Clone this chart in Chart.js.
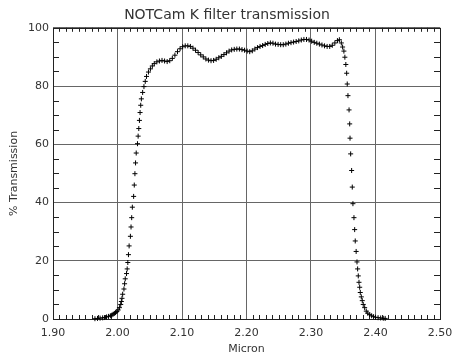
<!DOCTYPE html>
<html>
<head>
<meta charset="utf-8">
<script src="https://cdn.jsdelivr.net/npm/chart.js@4"></script>
<style>
  html, body { margin: 0; padding: 0; background: #fff; }
  #chart { display: block; }
</style>
</head>
<body>
<canvas id="chart" width="454" height="356"></canvas>
<script>
// filter curve (micron, % transmission)
const micron = [
  1.965, 1.969, 1.973, 1.977, 1.980, 1.983, 1.986, 1.989, 1.991, 1.993,
  1.995, 1.997, 1.999, 2.001, 2.003, 2.005, 2.006, 2.007, 2.008, 2.010,
  2.011, 2.012, 2.014, 2.015, 2.016, 2.017, 2.018, 2.020, 2.021, 2.022,
  2.023, 2.025, 2.026, 2.027, 2.028, 2.029, 2.031, 2.032, 2.033, 2.034,
  2.035, 2.036, 2.037, 2.039, 2.041, 2.043,
  2.045, 2.048, 2.051, 2.054, 2.057, 2.061, 2.065, 2.069, 2.073, 2.077,
  2.081, 2.085, 2.089, 2.093, 2.097, 2.101, 2.105, 2.109, 2.113, 2.117,
  2.121, 2.125, 2.129, 2.133, 2.137, 2.141, 2.145, 2.149, 2.153, 2.157,
  2.161, 2.165, 2.169, 2.173, 2.177, 2.181, 2.185, 2.189, 2.193, 2.197,
  2.201, 2.205, 2.209, 2.213, 2.217, 2.221, 2.225, 2.229, 2.233, 2.237,
  2.241, 2.245, 2.249, 2.253, 2.257, 2.261, 2.265, 2.269, 2.273, 2.277,
  2.281, 2.285, 2.289, 2.293, 2.297, 2.301, 2.305, 2.309, 2.313, 2.317,
  2.321, 2.325, 2.329, 2.333, 2.337, 2.341, 2.344, 2.347, 2.349, 2.351,
  2.3525, 2.354, 2.3553, 2.3562, 2.3573, 2.359, 2.360, 2.3605, 2.3615, 2.363,
  2.364, 2.365, 2.3666, 2.3677, 2.3686, 2.370, 2.3713, 2.3723, 2.3733, 2.3744,
  2.3755, 2.3764, 2.378, 2.3795, 2.381, 2.3832, 2.3857, 2.388, 2.391, 2.394,
  2.397, 2.400, 2.404, 2.408, 2.412, 2.415
];
const transmission = [
  0.1, 0.2, 0.3, 0.4, 0.5, 0.7, 0.9, 1.1, 1.3, 1.6,
  1.9, 2.2, 2.6, 3.1, 3.9, 5.0, 6.0, 7.1, 8.5, 10.3,
  12.1, 13.8, 15.6, 17.2, 19.4, 22.1, 25.1, 28.4, 31.6, 34.8,
  38.4, 42.1, 46.0, 49.9, 53.6, 57.0, 60.2, 62.8, 65.4, 68.2,
  70.9, 73.4, 75.6, 77.8, 79.8, 81.6,
  83.3, 84.8, 85.9, 86.9, 87.7, 88.3, 88.6, 88.8, 88.6, 88.4,
  88.7, 89.5, 90.6, 91.8, 92.8, 93.5, 93.8, 93.8, 93.6, 93.0,
  92.3, 91.5, 90.7, 90.0, 89.3, 88.9, 88.7, 88.8, 89.2, 89.7,
  90.2, 90.8, 91.4, 92.0, 92.4, 92.6, 92.7, 92.7, 92.5, 92.3,
  92.0, 91.8, 92.1, 92.7, 93.2, 93.6, 93.9, 94.3, 94.6, 94.8,
  94.7, 94.4, 94.3, 94.2, 94.2, 94.4, 94.7, 94.9, 95.1, 95.3,
  95.5, 95.8, 96.0, 96.0, 95.8, 95.4, 95.0, 94.7, 94.4, 94.1,
  93.8, 93.6, 93.6, 94.0, 94.8, 95.6, 95.9, 94.8, 93.4, 92.0,
  89.9, 87.4, 84.4, 80.7, 76.7, 71.8, 67.0, 62.1, 56.7, 51.0,
  45.3, 39.6, 34.8, 30.7, 26.8, 23.2, 19.6, 17.2, 14.8, 12.6,
  10.9, 9.1, 7.6, 6.3, 5.0, 3.9, 2.7, 2.0, 1.5, 1.1,
  0.8, 0.6, 0.45, 0.35, 0.25, 0.2
];
const xRange = [1.9, 2.5];
const yRange = [0, 100];
const xStep = 0.1, xMinorStep = 0.01;
const yStep = 20, yMinorStep = 5;

const points = micron.map((m, i) => ({ x: m, y: transmission[i] }));

const textColor = '#333';
const gridColor = '#666';

// box around the plot plus the small inside ticks
const framePlugin = {
  id: 'frame',
  beforeDatasetsDraw(chart) {
    const ctx = chart.ctx;
    const a = chart.chartArea;
    const xs = chart.scales.x, ys = chart.scales.y;
    ctx.save();
    ctx.strokeStyle = '#222';
    ctx.lineWidth = 1;
    ctx.beginPath();
    for (let i = 0; i <= Math.round((xRange[1] - xRange[0]) / xMinorStep); i++) {
      if (i % 10 === 0) continue;
      const px = Math.round(xs.getPixelForValue(xRange[0] + i * xMinorStep)) + 0.5;
      ctx.moveTo(px, a.bottom); ctx.lineTo(px, a.bottom - 4);
      ctx.moveTo(px, a.top); ctx.lineTo(px, a.top + 4);
    }
    for (let v = yRange[0]; v <= yRange[1]; v += yMinorStep) {
      if (v % yStep === 0) continue;
      const py = Math.round(ys.getPixelForValue(v)) + 0.5;
      ctx.moveTo(a.left, py); ctx.lineTo(a.left + 6, py);
      ctx.moveTo(a.right, py); ctx.lineTo(a.right - 6, py);
    }
    ctx.stroke();
    ctx.strokeRect(Math.round(a.left) + 0.5, Math.round(a.top) + 0.5,
      Math.round(a.right - a.left), Math.round(a.bottom - a.top));
    ctx.restore();
  }
};

new Chart(document.getElementById('chart'), {
  type: 'scatter',
  data: {
    datasets: [{
      data: points,
      pointStyle: 'cross',
      pointRadius: 2.5,
      borderColor: '#000',
      borderWidth: 1,
      showLine: false,
      clip: false
    }]
  },
  options: {
    responsive: false,
    animation: false,
    devicePixelRatio: 1,
    events: [],
    layout: { padding: 0 },
    plugins: {
      legend: { display: false },
      tooltip: { enabled: false },
      title: {
        display: true,
        text: 'NOTCam K filter transmission',
        color: textColor,
        font: { family: 'DejaVu Sans', size: 14, weight: 'normal' },
        padding: { top: 7, bottom: 4 }
      }
    },
    scales: {
      x: {
        type: 'linear',
        min: xRange[0],
        max: xRange[1],
        afterFit: (s) => {
          s.height = 37;
          s.paddingRight = 14;
        },
        grid: { color: gridColor, drawTicks: false },
        border: { display: false },
        ticks: {
          stepSize: xStep,
          autoSkip: false,
          maxRotation: 0,
          padding: 8,
          color: textColor,
          font: { family: 'DejaVu Sans', size: 11 },
          callback: (v) => v.toFixed(2)
        },
        title: {
          display: true,
          text: 'Micron',
          color: textColor,
          font: { family: 'DejaVu Sans', size: 11 },
          padding: { top: 0, bottom: 0 }
        }
      },
      y: {
        min: yRange[0],
        max: yRange[1],
        afterFit: (s) => { s.width = 53; },
        grid: { color: gridColor, drawTicks: false },
        border: { display: false },
        ticks: {
          stepSize: yStep,
          padding: 4,
          color: textColor,
          font: { family: 'DejaVu Sans', size: 11 }
        },
        title: {
          display: true,
          text: '% Transmission',
          color: textColor,
          font: { family: 'DejaVu Sans', size: 11 },
          padding: { top: 8, bottom: 0 }
        }
      }
    }
  },
  plugins: [framePlugin]
});
</script>
</body>
</html>
